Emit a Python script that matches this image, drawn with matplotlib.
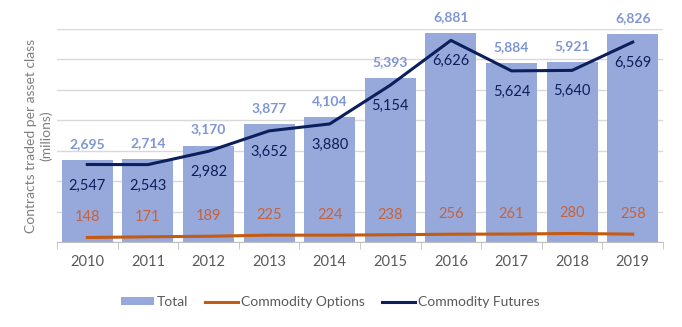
import numpy as np
import matplotlib.pyplot as plt
from matplotlib.ticker import MultipleLocator, FixedLocator

plt.rcParams['font.family'] = ['Lato', 'DejaVu Sans']

# データ
years = ['2010', '2011', '2012', '2013', '2014', '2015', '2016', '2017', '2018', '2019']
total = [2695, 2714, 3170, 3877, 4104, 5393, 6881, 5884, 5921, 6826]
options = [148, 171, 189, 225, 224, 238, 256, 261, 280, 258]
futures = [2547, 2543, 2982, 3652, 3880, 5154, 6626, 5624, 5640, 6569]

bar_col = '#97A9DB'
tot_lab = '#7F96D6'
fut_col = '#0B1F5C'
opt_col = '#C55A11'
grey = '#595959'

x = np.arange(len(years))

fig = plt.figure(figsize=(6.82, 3.27), dpi=100)
ax = fig.add_axes([57/682, 1 - 242/327, 606/682, 213/327])

b = ax.bar(x, total, width=0.84, color=bar_col, label='Total', zorder=2)
l1, = ax.plot(x, options, color=opt_col, lw=2.2, label='Commodity Options', zorder=3)
l2, = ax.plot(x, futures, color=fut_col, lw=2.2, label='Commodity Futures', zorder=3)

# ラベル
for i in range(len(x)):
    ax.annotate(f'{total[i]:,}', (x[i], total[i]), xytext=(0, 16), textcoords='offset pixels',
                ha='center', va='center', color=tot_lab, fontsize=10, fontweight='bold',
                annotation_clip=False)
    ax.annotate(f'{futures[i]:,}', (x[i], futures[i]), xytext=(0, -21), textcoords='offset pixels',
                ha='center', va='center', color=fut_col, fontsize=10.5)
    ax.annotate(f'{options[i]}', (x[i], options[i]), xytext=(0, 20), textcoords='offset pixels',
                ha='center', va='center', color='#C8623A', fontsize=10.5)

ax.set_xlim(-0.5, 9.5)
ax.set_ylim(0, 7000)
ax.yaxis.set_major_locator(MultipleLocator(1000))
ax.grid(axis='y', color='#D9D9D9', lw=1, zorder=0)
ax.set_yticklabels([])
ax.tick_params(axis='y', length=0)
ax.set_xticks(x)
ax.set_xticklabels(years, color=grey, fontsize=10.5)
ax.tick_params(axis='x', length=0, pad=9)
ax.xaxis.set_minor_locator(FixedLocator(np.arange(-0.5, 10, 1)))
ax.tick_params(axis='x', which='minor', length=5, color='#BFBFBF', direction='out')
for s in ['top', 'right', 'left']:
    ax.spines[s].set_visible(False)
ax.spines['bottom'].set_color('#BFBFBF')

ax.set_ylabel('Contracts traded per asset class\n(milions)', color='#7F7F7F', fontsize=10)
ax.yaxis.set_label_coords(-0.008, 0.50)

fig.legend([b, l1, l2], ['Total', 'Commodity Options', 'Commodity Futures'],
           loc='center', bbox_to_anchor=(330/682, 1 - 302/327), ncol=3, frameon=False,
           fontsize=10, labelcolor=grey, handlelength=2.4, handleheight=0.5,
           handletextpad=0.2, columnspacing=1.2)

plt.savefig('out.png')
